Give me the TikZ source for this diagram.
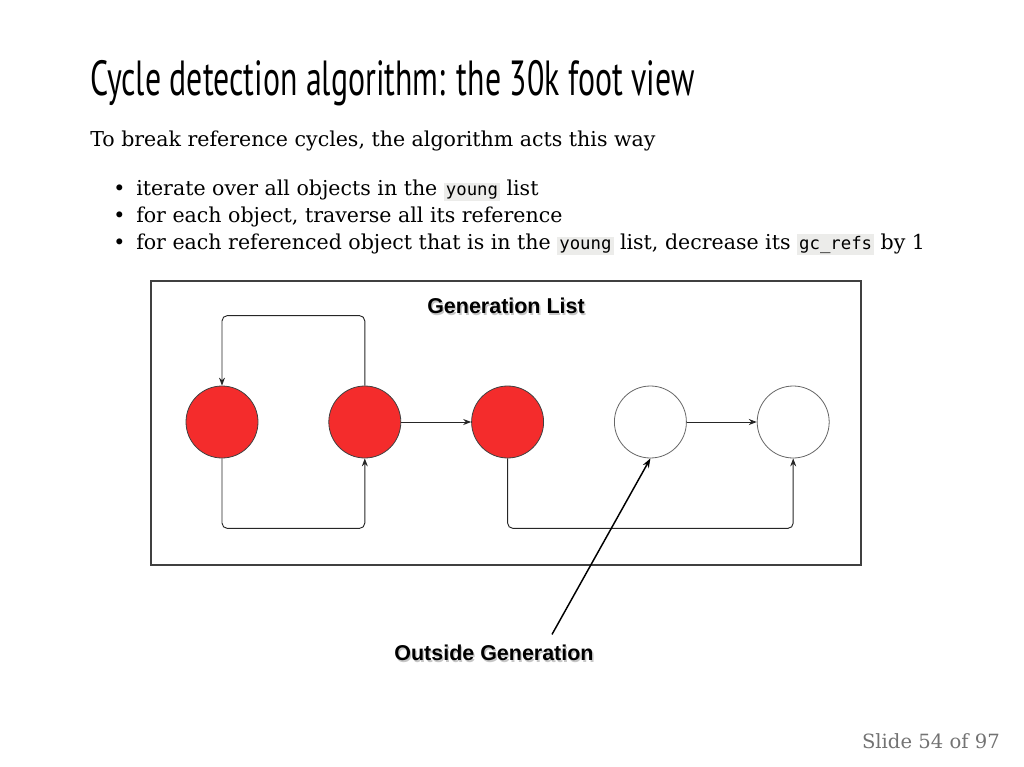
\documentclass[tikz,border=0pt]{standalone}
\usepackage{fontspec}
\setmainfont{DejaVu Serif}
\newfontfamily\titlefont[FakeStretch=0.645]{PT Sans}
\newfontfamily\codefont{DejaVu Sans Mono}
\newfontfamily\figfont{Liberation Sans}
\usetikzlibrary{positioning,arrows.meta}

\definecolor{objred}{HTML}{F42C2C}
\definecolor{codebg}{HTML}{ECECEA}

% inline code with light grey box
\newcommand{\code}[1]{{\setlength{\fboxsep}{1.5pt}\colorbox{codebg}{\codefont\fontsize{13}{15}\selectfont #1}}}
% label text with soft drop shadow
\newcommand{\shtext}[1]{\rlap{\raisebox{-1.5pt}{\hspace{1pt}\textcolor{gray!45}{#1}}}#1}

\begin{document}
\begin{tikzpicture}[
    x=0.75pt, y=-0.75pt,
    node distance=52.5pt,
    body/.style={anchor=base west, inner sep=0pt, font=\fontsize{15.4}{18}\selectfont},
    obj/.style={circle, minimum size=54pt, inner sep=0pt, line width=0.6pt},
    youngobj/.style={obj, draw=black!75, fill=objred},
    oldobj/.style={obj, draw=black!60, fill=white},
    link/.style={draw=black!85, line width=0.7pt, rounded corners=4pt,
      -{Stealth[length=6pt,width=4.5pt]}},
    pointer/.style={draw=black, line width=1.1pt, -{Stealth[length=7pt,width=5pt]}},
    figlabel/.style={font=\figfont\bfseries\fontsize{16.1}{18}\selectfont}
  ]
  \useasboundingbox (0,0) rectangle (1024,767);

% --- Title and text ---
  \node[anchor=base west, inner sep=0pt, font=\titlefont\fontsize{37}{40}\selectfont] (title) at (90,95)
    {Cycle detection algorithm: the 30k foot view};
  \node[body] (intro) at (90,146) {To break reference cycles, the algorithm acts this way};

  \node[body] (dot1) at (113,195) {\textbullet};
  \node[body] (dot2) at (113,222) {\textbullet};
  \node[body] (dot3) at (113,249) {\textbullet};
  \node[body] (item1) at (136,195) {iterate over all objects in the \code{young} list};
  \node[body] (item2) at (136,222) {for each object, traverse all its reference};
  \node[body] (item3) at (136,249)
    {for each referenced object that is in the \code{young} list, decrease its \code{gc\_refs} by 1};

% --- Generation list panel ---
  \node[draw=black!75, line width=1.2pt, minimum width=532.5pt, minimum height=213pt,
    inner sep=0pt] (panel) at (506,423) {};
  \node[figlabel] (genlist) at (506,307) {\shtext{Generation List}};

% --- Objects ---
  \node[youngobj] (o1) at (222,422) {};
  \node[youngobj, right=of o1] (o2) {};
  \node[youngobj, right=of o2] (o3) {};
  \node[oldobj, right=of o3] (o4) {};
  \node[oldobj, right=of o4] (o5) {};

% --- References ---
  \draw[link] (o2.north) -- ++(0,-70) -| (o1.north);
  \draw[link] (o1.south) -- ++(0,70) -| (o2.south);
  \draw[link, rounded corners=0pt] (o2) -- (o3);
  \draw[link] (o3.south) -- ++(0,70) -| (o5.south);
  \draw[link, rounded corners=0pt] (o4) -- (o5);

% --- Outside generation ---
  \node[figlabel] (outside) at (494,654) {\shtext{Outside Generation}};
  \draw[pointer] ([shift={(58,-6)}]outside.north) -- (o4.south);

  \node[anchor=base east, inner sep=0pt, text=black!55, font=\fontsize{14.7}{17}\selectfont]
    (slideno) at (1000,748) {Slide 54 of 97};
\end{tikzpicture}
\end{document}
